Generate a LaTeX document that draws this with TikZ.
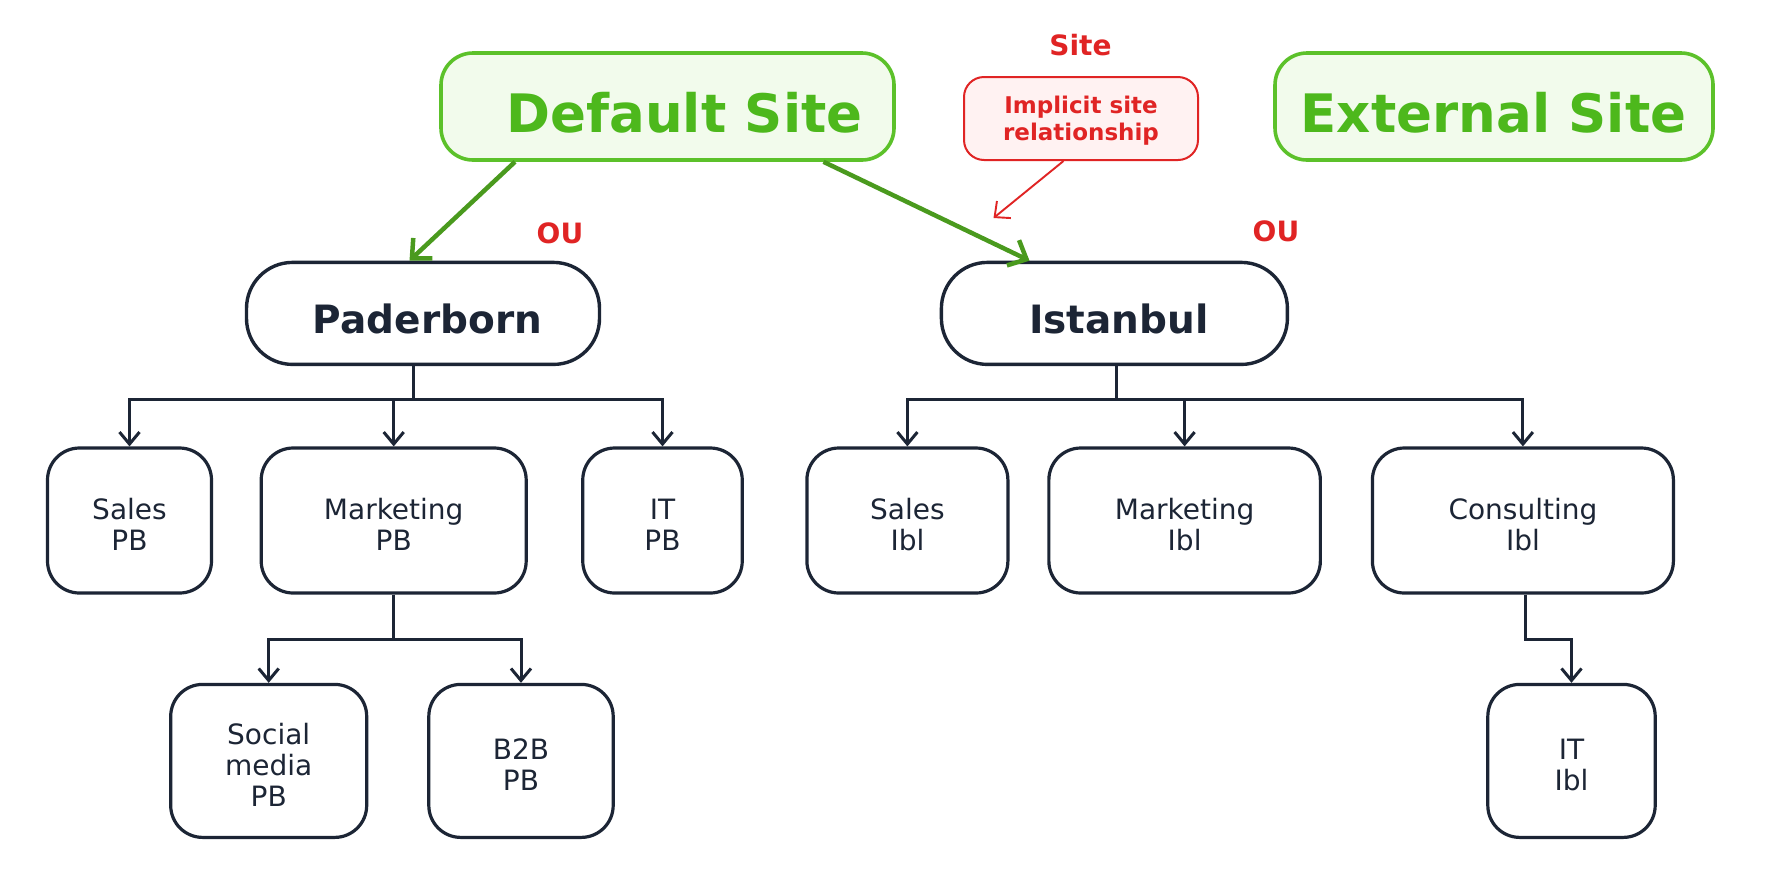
\documentclass[tikz,border=0pt]{standalone}
\usepackage{fontspec}
\setmainfont{DejaVu Sans}
\usetikzlibrary{arrows.meta}
\definecolor{sitegreen}{HTML}{5CC12A}
\definecolor{sitefill}{HTML}{F2FBEC}
\definecolor{sitetext}{HTML}{4DB81C}
\definecolor{arrgreen}{HTML}{4A9A1E}
\definecolor{redc}{HTML}{E02424}
\definecolor{redfill}{HTML}{FFF2F2}
\definecolor{navy}{HTML}{1C2535}
\newcommand{\strutA}{\rule{0pt}{28.5pt}}
\newcommand{\strutB}{\rule{0pt}{41.5pt}}
\begin{document}
\begin{tikzpicture}[x=1pt,y=-1pt,
  sitebox/.style={draw=sitegreen, line width=3.6pt, fill=sitefill, rounded corners=32pt, minimum height=107pt, inner sep=0pt},
  sitelabel/.style={text=sitetext, font=\fontsize{53}{60}\selectfont\bfseries, inner sep=0pt},
  oubox/.style={draw=navy, line width=3.4pt, rounded corners=46pt, minimum height=102pt, inner sep=0pt, text=navy, font=\fontsize{39}{44}\selectfont\bfseries},
  subbox/.style={draw=navy, line width=3.2pt, rounded corners=32pt, minimum height=145pt, inner sep=0pt, align=center, text=navy, font=\fontsize{28}{31}\selectfont},
  botbox/.style={subbox, minimum height=153pt},
  redlabel/.style={text=redc, font=\fontsize{28}{32}\selectfont\bfseries, inner sep=0pt},
  tree/.style={draw=navy, line width=3pt, -{Straight Barb[length=12pt,width=20pt,line width=3pt]}},
  treeline/.style={draw=navy, line width=3pt},
  greenarr/.style={draw=arrgreen, line width=4.5pt, -{Straight Barb[length=15pt,width=28pt,line width=4.5pt]}},
  redarr/.style={draw=redc, line width=1.9pt, -{Straight Barb[length=12pt,width=22pt,line width=1.9pt]}}
]
\useasboundingbox (0,0) rectangle (1774,887);
\fill[white] (0,0) rectangle (1774,887);

% Sites
\node[sitebox, minimum width=453pt] (ds) at (667.5,106.5) {};
\node[sitelabel] (dst) at (684.5,113) {Default Site};
\node[sitebox, minimum width=438pt] (es) at (1494,106.5) {};
\node[sitelabel] (est) at (1493.5,113) {External Site};

\node[redlabel] (site) at (1080.5,45) {Site};
\node[draw=redc, line width=2pt, fill=redfill, rounded corners=20pt, minimum width=234pt, minimum height=83pt, inner sep=0pt, align=center, text=redc, font=\fontsize{23}{27}\selectfont\bfseries] (impl) at (1081,118.5) {\rule{0pt}{22pt}Implicit site\\relationship};

\node[redlabel] (ou1) at (560,233) {OU};
\node[redlabel] (ou2) at (1276,231) {OU};

% OUs
\node[oubox, minimum width=353pt] (pad) at (423,313.4) {\hspace*{9pt}\strutB Paderborn};
\node[oubox, minimum width=346pt] (ist) at (1114.4,313.4) {\hspace*{9pt}\strutB Istanbul};

% Sub OUs
\node[subbox, minimum width=164pt] (spb) at (129.5,520.5) {\strutA Sales\\PB};
\node[subbox, minimum width=265pt] (mpb) at (393.7,520.5) {\strutA Marketing\\PB};
\node[subbox, minimum width=159.5pt] (ipb) at (662.5,520.5) {\strutA IT\\PB};
\node[subbox, minimum width=201pt] (sib) at (907.4,520.5) {\strutA Sales\\Ibl};
\node[subbox, minimum width=271.5pt] (mib) at (1184.6,520.5) {\strutA Marketing\\Ibl};
\node[subbox, minimum width=301pt] (cib) at (1522.9,520.5) {\strutA Consulting\\Ibl};

\node[botbox, minimum width=196pt] (smp) at (268.7,760.9) {\strutA Social\\media\\PB};
\node[botbox, minimum width=184.4pt] (bpb) at (521,760.9) {\strutA B2B\\PB};
\node[botbox, minimum width=167.4pt] (iib) at (1571.5,760.9) {\strutA IT\\Ibl};

% Green arrows
\draw[greenarr] ([xshift=-152.5pt]ds.south) -- ([xshift=-13.5pt]pad.north);
\draw[greenarr] ([xshift=156pt]ds.south) -- ([xshift=-84.9pt]ist.north);
% Red arrow
\coordinate (redend) at (993.5,218);
\draw[redarr] ([xshift=-17.5pt]impl.south) -- (redend);

% Tree Paderborn
\coordinate (pj) at (413,399.4);
\draw[treeline] (pj |- pad.south) -- (pj);
\draw[tree] (pj) -| (spb.north);
\draw[tree] (pj) -| (ipb.north);
\draw[tree] (mpb.north |- pj) -- (mpb.north);

% Tree Istanbul
\coordinate (ij) at (1116.7,399.4);
\draw[treeline] (ij |- ist.south) -- (ij);
\draw[tree] (ij) -| (sib.north);
\draw[tree] (ij) -| (cib.north);
\draw[tree] (mib.north |- ij) -- (mib.north);

% Marketing PB children
\coordinate (mj) at (393.7,639);
\draw[treeline] (mpb.south) -- (mj);
\draw[tree] (mj) -| (smp.north);
\draw[tree] (mj) -| (bpb.north);

% Consulting child
\coordinate (cj) at (1525,639);
\draw[tree] (cj |- cib.south) -- (cj) -| (iib.north);
\end{tikzpicture}
\end{document}
